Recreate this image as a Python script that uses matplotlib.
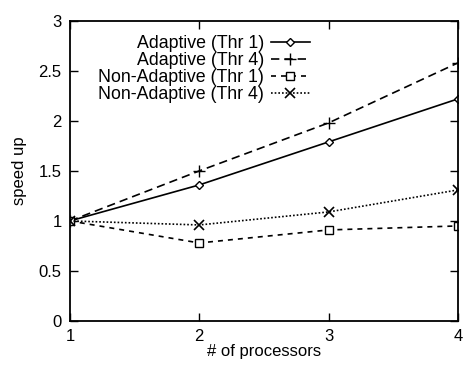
import matplotlib.pyplot as plt

plt.rcParams['font.family'] = ['Liberation Sans', 'DejaVu Sans']

# datos
procesadores = [1, 2, 3, 4]
adapt_thr1 = [1.0, 1.36, 1.79, 2.22]
adapt_thr4 = [1.0, 1.50, 1.98, 2.58]
noadapt_thr1 = [1.0, 0.78, 0.91, 0.95]
noadapt_thr4 = [1.0, 0.96, 1.09, 1.31]

fig = plt.figure(figsize=(4.63, 3.66), dpi=100)
ax = fig.add_axes([0.151, 0.123, 0.838, 0.820])

ax.plot(procesadores, adapt_thr1, color='black', lw=1.2, ls='-',
        marker='D', ms=4.5, mfc='white', mec='black', mew=1.0,
        label='Adaptive (Thr 1)')
ax.plot(procesadores, adapt_thr4, color='black', lw=1.2, ls=(0, (5, 3)),
        marker='+', ms=8, mew=1.0, label='Adaptive (Thr 4)')
ax.plot(procesadores, noadapt_thr1, color='black', lw=1.2, ls=(0, (3, 3)),
        marker='s', ms=6, mfc='white', mec='black', mew=1.0,
        label='Non-Adaptive (Thr 1)')
ax.plot(procesadores, noadapt_thr4, color='black', lw=1.2, ls=(0, (1, 1.2)),
        marker='x', ms=7, mew=1.2, label='Non-Adaptive (Thr 4)')

ax.set_xlim(1, 4)
ax.set_ylim(0, 3)
ax.set_xticks([1, 2, 3, 4])
ax.set_yticks([0, 0.5, 1, 1.5, 2, 2.5, 3])
ax.set_yticklabels(['0', '0.5', '1', '1.5', '2', '2.5', '3'])
ax.tick_params(direction='in', length=6, width=1, top=True, right=True,
               labelsize=12, pad=6)
for s in ax.spines.values():
    s.set_linewidth(1.3)

ax.set_xlabel('# of processors', fontsize=12, labelpad=0)
ax.set_ylabel('speed up', fontsize=12, labelpad=8)

# leyenda estilo gnuplot: texto a la derecha alineado, muestra despues
ax.legend(loc='upper left', bbox_to_anchor=(0.04, 0.995), frameon=False,
          markerfirst=False, fontsize=12.8, handlelength=2.2, handletextpad=0.4,
          labelspacing=0.0, borderpad=0.2)
for t in ax.get_legend().get_texts():
    t.set_ha('right')
    t.set_position((0, 0))

fig.savefig('out.png', dpi=100)
